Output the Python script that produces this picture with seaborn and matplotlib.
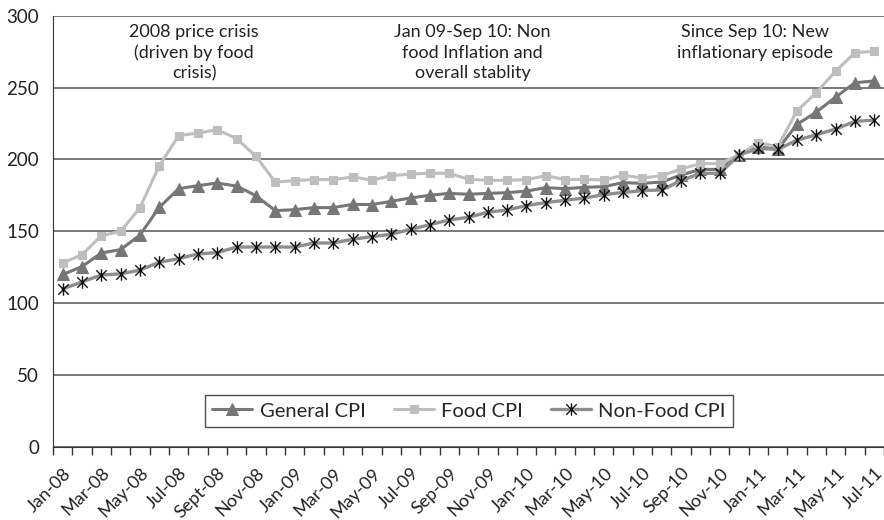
import numpy as np
import pandas as pd
import matplotlib
matplotlib.use("Agg")
import matplotlib.pyplot as plt
from matplotlib.path import Path
import seaborn as sns

# Meses (Jan-08 ... Jul-11)
months = pd.date_range("2008-01-01", "2011-07-01", freq="MS")
month_labels = [m.strftime("%b-%y") for m in months]
month_labels[8] = "Sept-08"

general_cpi = [120, 125.5, 135, 137.3, 147.5, 166.7, 179.7, 181.8, 183.6, 181.5, 174.8, 164.4,
               165.1, 166.5, 166.5, 168.8, 168.6, 170.9, 173.2, 175.1, 176.4, 175.8, 176.4, 176.9,
               178.0, 180.4, 179.7, 180.6, 181.1, 183.9, 183.4, 184.3, 189.2, 193.1, 193.1, 203.0,
               208.9, 207.0, 224.4, 233.0, 243.4, 253.4, 254.6]
food_cpi = [128, 133.8, 147, 150, 166.5, 195.7, 216.6, 218.4, 220.7, 214.5, 202.2, 184.3,
            185.3, 186, 186, 187.8, 185.7, 188.7, 189.9, 190.4, 190.4, 186.2, 185.5, 185.5,
            186.0, 188.7, 186.0, 186.2, 185.7, 189.0, 187.1, 188.7, 193.4, 197.1, 197.1, 203.1,
            211.7, 208.9, 233.9, 246.5, 261.5, 274.3, 275.2]
nonfood_cpi = [110, 114.8, 119.7, 120.4, 123.1, 128.5, 131, 134.3, 135.2, 139.1, 139.1, 139.1,
               139.1, 141.9, 141.9, 144.5, 146.3, 148, 151.4, 154.6, 157.9, 159.8, 163.3, 164.9,
               167.9, 170.0, 171.6, 173.2, 175.5, 177.1, 178.3, 178.8, 185.3, 190.4, 190.4, 203.1,
               207.7, 207.0, 213.5, 217.2, 221.2, 226.5, 227.4]

annotations = ["2008 price crisis\n(driven by food\ncrisis)",
               "Jan 09-Sep 10: Non\nfood Inflation and\noverall stablity",
               "Since Sep 10: New\ninflationary episode"]
annot_x = [6.8, 21.2, 35.8]

# marcador asterisco estilo Excel (x + barra vertical)
star = Path([(-1, -1), (1, 1), (-1, 1), (1, -1), (0, -1.2), (0, 1.2)],
            [Path.MOVETO, Path.LINETO, Path.MOVETO, Path.LINETO, Path.MOVETO, Path.LINETO])

sns.set_style("white")
plt.rcParams["font.family"] = ["Lato", "DejaVu Sans"]

x = np.arange(len(months))
fig = plt.figure(figsize=(8.84, 5.2), dpi=100)
ax = fig.add_axes([0.06, 0.1404, 0.94, 0.8294])

sns.lineplot(x=x, y=general_cpi, ax=ax, color="#767676", lw=2.2, marker="^", markersize=8,
             markeredgecolor="#767676", label="General CPI")
sns.lineplot(x=x, y=food_cpi, ax=ax, color="#bebebe", lw=2.2, marker="s", markersize=6,
             markeredgecolor="#bebebe", label="Food CPI")
sns.lineplot(x=x, y=nonfood_cpi, ax=ax, color="#8e8e8e", lw=2.4, marker=star, markersize=9,
             markeredgecolor="#111111", markerfacecolor="none", markeredgewidth=1.0,
             label="Non-Food CPI")

ax.set_xlim(-0.5, len(months) - 0.5)
ax.set_ylim(0, 300)
ax.set_yticks(range(0, 301, 50))
ax.yaxis.grid(True, color="#555555", lw=1.1)
ax.set_axisbelow(True)

ax.set_xticks(x[::2])
ax.set_xticklabels(month_labels[::2], rotation=45, ha="right", rotation_mode="anchor")
ax.set_xticks(np.arange(-0.5, len(months)), minor=True)
ax.tick_params(axis="x", which="major", length=0, pad=13, labelsize=13, colors="#222222")
ax.tick_params(axis="x", which="minor", length=6, width=1, color="#333333", direction="out")
ax.tick_params(axis="y", length=6, width=1, color="#555555", labelsize=13.5, pad=4,
               labelcolor="#222222")
ax.tick_params(bottom=True, which="both")

for s in ["top", "right"]:
    ax.spines[s].set_visible(False)
ax.spines["left"].set_color("#333333")
ax.spines["bottom"].set_color("#333333")

for t, xp in zip(annotations, annot_x):
    ax.text(xp, 294, t, ha="center", va="top", fontsize=13, color="#222222", linespacing=1.33)

leg = ax.legend(loc="center", bbox_to_anchor=(0.5006, 0.0835), ncol=3, fontsize=14.5,
                frameon=True, fancybox=False, edgecolor="#222222", handlelength=2.0,
                handletextpad=0.35, columnspacing=1.4, borderpad=0.35)
leg.get_frame().set_linewidth(1.0)

fig.savefig("out.png", dpi=100)
